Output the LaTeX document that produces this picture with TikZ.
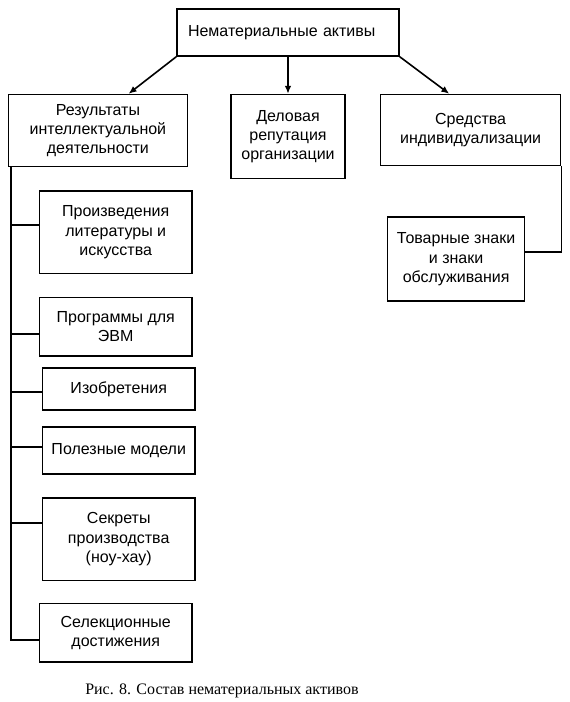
\documentclass[tikz,border=0pt]{standalone}
\usepackage{fontspec}
\setmainfont{Liberation Sans}
\newfontfamily\capfont{Liberation Serif}
\usetikzlibrary{arrows.meta,positioning}

\begin{document}
\begin{tikzpicture}[
  x=0.75pt, y=-0.75pt,
  font=\fontsize{12}{14.5}\selectfont,
  box/.style={draw,line width=1.2pt,align=center,inner sep=2pt},
  colbox/.style={box,minimum width=114.5pt},
  arr/.style={line width=1.2pt,-{Latex[length=6pt,width=5pt]}},
  link/.style={line width=1.2pt}
]
\useasboundingbox (0,0) rectangle (569,702);
\node[box,minimum width=166.5pt,minimum height=35.25pt,text width=150pt,align=left] (assets) at (288,32.5) {Нематериальные активы};
\node[box,minimum width=85.5pt,minimum height=63pt,below=27.75pt of assets] (rep) {Деловая\\репутация\\организации};
\node[box,minimum width=134.25pt,minimum height=54pt,left=31.5pt of rep.north west,anchor=north east] (intel) {Результаты\\интеллектуальной\\деятельности};
\node[box,minimum width=135pt,minimum height=53.25pt,right=25.5pt of rep.north east,anchor=north west] (indiv) {Средства\\индивидуализации};
\node[box,minimum width=102.75pt,minimum height=63pt,below=37.5pt of indiv.south east,anchor=north east,xshift=-27pt] (trade) {Товарные знаки\\и знаки\\обслуживания};
\draw[arr] (assets.south west) -- ([xshift=23pt]intel.north);
\draw[arr] (assets.south) -- (rep.north);
\draw[arr] (assets.south east) -- ([xshift=-16pt]indiv.north);
\draw[link] (indiv.south east) |- ([yshift=5.25pt]trade.east);
% left column
\node[colbox,minimum height=62pt,below=17pt of intel.south west,anchor=north west,xshift=23.25pt] (lit) {Произведения\\литературы и\\искусства};
\node[colbox,minimum height=44pt,below=16.8pt of lit.south west,anchor=north west] (prog) {Программы для\\ЭВМ};
\node[colbox,minimum height=31.5pt,below=7.8pt of prog.south west,anchor=north west,xshift=2.25pt] (inv) {Изобретения};
\node[colbox,minimum height=35pt,below=11.6pt of inv.south west,anchor=north west] (util) {Полезные модели};
\node[colbox,minimum height=62pt,below=16.8pt of util.south west,anchor=north west] (secr) {Секреты\\производства\\(ноу-хау)};
\node[colbox,minimum height=44pt,below=16pt of secr.south west,anchor=north west,xshift=-2.25pt] (sel) {Селекционные\\достижения};
\coordinate (trunk) at ([xshift=2.6pt]intel.south west);
\draw[link] (trunk) |- ([yshift=-5.25pt]sel.west);
\draw[link] ([yshift=5.25pt]lit.west) -| (trunk);
\draw[link] ([yshift=-5.25pt]prog.west) -| (trunk);
\draw[link] ([yshift=-1.9pt]inv.west) -| (trunk);
\draw[link] ([yshift=2.7pt]util.west) -| (trunk);
\draw[link] ([yshift=12pt]secr.west) -| (trunk);
\node[font=\capfont\fontsize{12}{14}\selectfont,anchor=north west,inner sep=0pt] (cap) at (85,684) {Рис. 8. Состав нематериальных активов};
\end{tikzpicture}
\end{document}
